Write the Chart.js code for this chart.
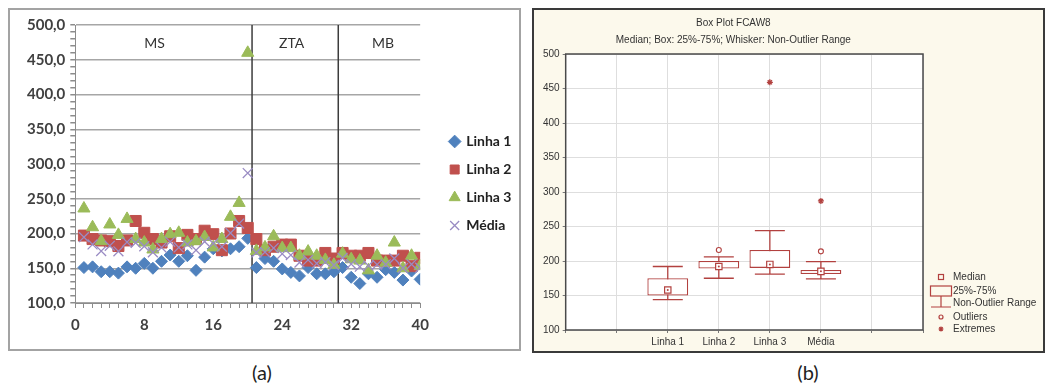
<!DOCTYPE html>
<html>
<head>
<meta charset="utf-8">
<script src="https://cdn.jsdelivr.net/npm/chart.js@4.4.1/dist/chart.umd.min.js"></script>
<style>
    html, body { margin: 0; padding: 0; background: #fff; }
    body { width: 1045px; height: 385px; position: relative; overflow: hidden; font-family: Lato, sans-serif; }
    #panelA { position: absolute; left: 8px; top: 8px; width: 509px; height: 339px; border: 2px solid #a3a3a3; background: #fff; }
    #panelB { position: absolute; left: 532px; top: 8px; width: 509px; height: 341px; border: 2px solid #3a3a3a; background: #fcf9ec; }
    .cap { position: absolute; top: 360px; width: 60px; text-align: center; font-size: 20px; line-height: 24px; color: #222; }
</style>
</head>
<body>
<div id="panelA"><canvas id="chartA" width="509" height="339"></canvas></div>
<div id="panelB"><canvas id="chartB" width="509" height="341"></canvas></div>
<div class="cap" style="left:232px">(a)</div>
<div class="cap" style="left:778px">(b)</div>
<script>
// --- painel (a): valores por amostra ---
const samples = [1, 2, 3, 4, 5, 6, 7, 8, 9, 10, 11, 12, 13, 14, 15, 16, 17, 18, 19, 20,
                 21, 22, 23, 24, 25, 26, 27, 28, 29, 30, 31, 32, 33, 34, 35, 36, 37, 38, 39, 40];
const linha1 = [151, 152, 145, 145, 143, 152, 150, 157, 150, 160, 169, 160, 168, 147, 166, 178, 175, 178, 181, 193,
                151, 164, 160, 149, 144, 139, 151, 142, 142, 145, 151, 137, 128, 142, 137, 148, 144, 133, 146, 134];
const linha2 = [197, 192, 190, 189, 182, 190, 218, 201, 192, 187, 196, 179, 198, 192, 204, 199, 176, 200, 218, 208,
                192, 176, 181, 184, 184, 168, 161, 161, 172, 164, 172, 168, 168, 172, 161, 161, 161, 168, 153, 165];
const linha3 = [236, 209, 189, 213, 198, 221, 192, 187, 177, 192, 199, 201, 187, 189, 195, 180, 192, 224, 244, 460,
                175, 180, 196, 179, 179, 168, 174, 168, 162, 155, 171, 163, 161, 147, 168, 158, 187, 150, 168, 153];
const media  = [194.7, 184.3, 174.7, 182.3, 174.3, 187.7, 186.7, 181.7, 173, 179.7, 188, 180, 184.3, 176, 188.3, 185.7, 181, 200.7, 214.3, 287,
                172.7, 173.3, 179, 170.7, 169, 158.3, 162, 157, 158.7, 154.7, 164.7, 156, 152.3, 153.7, 155.3, 155.7, 164, 150.3, 155.7, 150.7];
const regionNames = ['MS', 'ZTA', 'MB'];
const regionBounds = [0, 20.5, 30.5, 40];
const regionLabelAt = [9.2, 25.1, 35.7];

// --- painel (b): box plot ---
const boxLabels = ['Linha 1', 'Linha 2', 'Linha 3', 'Média'];
const boxPos = [2, 3, 4, 5];
const boxQ1 = [150, 189, 190, 181];
const boxQ3 = [175, 200, 216, 187];
const boxMedian = [158, 192, 195, 185];
const whiskerLow = [144, 175, 181, 174];
const whiskerHigh = [192, 206, 244, 199];
const outlierPos = [3, 5];
const outlierVal = [216, 214];
const extremePos = [4, 5];
const extremeVal = [459, 287];

const boxRed = '#b2413f';

function pts(values) {
    return values.map((v, i) => ({ x: samples[i], y: v }));
}

const regionsPlugin = {
    id: 'regions',
    beforeDatasetsDraw(chart) {
        const { ctx, chartArea, scales } = chart;
        ctx.save();
        ctx.strokeStyle = '#3c3c3c';
        ctx.lineWidth = 1.5;
        for (let i = 1; i < regionBounds.length - 1; i++) {
            const px = scales.x.getPixelForValue(regionBounds[i]);
            ctx.beginPath();
            ctx.moveTo(px, chartArea.top);
            ctx.lineTo(px, chartArea.bottom);
            ctx.stroke();
        }
        ctx.fillStyle = '#333';
        ctx.font = '14px Lato';
        ctx.textAlign = 'center';
        ctx.textBaseline = 'middle';
        const ly = scales.y.getPixelForValue(473);
        regionNames.forEach((name, i) => {
            ctx.fillText(name, scales.x.getPixelForValue(regionLabelAt[i]), ly);
        });
        ctx.restore();
    }
};

new Chart(document.getElementById('chartA'), {
    type: 'scatter',
    data: {
        datasets: [
            { label: 'Linha 1', data: pts(linha1), pointStyle: 'rectRot', pointRadius: 6,
              backgroundColor: '#4f81bd', borderColor: '#4f81bd', borderWidth: 1, order: 3 },
            { label: 'Linha 2', data: pts(linha2), pointStyle: 'rect', pointRadius: 7.8,
              backgroundColor: '#c0504d', borderColor: '#c0504d', borderWidth: 1, order: 2 },
            { label: 'Linha 3', data: pts(linha3), pointStyle: 'triangle', pointRadius: 7,
              backgroundColor: '#9bbb59', borderColor: '#9bbb59', borderWidth: 1, order: 1 },
            { label: 'Média', data: pts(media), pointStyle: 'crossRot', pointRadius: 7,
              backgroundColor: '#9a8cc4', borderColor: '#9a8cc4', borderWidth: 1.3, order: 0 }
        ]
    },
    options: {
        responsive: false,
        animation: false,
        layout: { padding: { left: 12, top: 15, bottom: 7, right: 0 } },
        plugins: {
            tooltip: { enabled: false },
            legend: {
                position: 'right',
                labels: {
                    usePointStyle: true,
                    boxWidth: 9,
                    boxHeight: 9,
                    padding: 14,
                    color: '#222',
                    font: { family: 'Lato', weight: 'bold', size: 14 },
                    sort: (a, b) => a.datasetIndex - b.datasetIndex
                }
            }
        },
        scales: {
            x: {
                type: 'linear', min: 0, max: 40,
                ticks: {
                    stepSize: 1, autoSkip: false, maxRotation: 0, padding: 8,
                    color: '#404040', font: { family: 'Lato', weight: 'bold', size: 15 },
                    callback: v => (v % 8 === 0 ? v : '')
                },
                grid: { drawOnChartArea: false, tickLength: 5, color: '#8c8c8c' },
                border: { color: '#8c8c8c' }
            },
            y: {
                min: 100, max: 500,
                ticks: {
                    stepSize: 10, autoSkip: false, padding: 5,
                    color: '#404040', font: { family: 'Lato', weight: 'bold', size: 15 },
                    callback: v => (v % 50 === 0 ? v.toFixed(1).replace('.', ',') : '')
                },
                grid: {
                    color: c => (c.tick && c.tick.value % 50 === 0 ? '#a6a6a6' : 'rgba(0,0,0,0)'),
                    tickColor: '#8c8c8c', tickLength: 5, lineWidth: 1.5
                },
                border: { color: '#8c8c8c' }
            },
            gap: {
                type: 'linear', position: 'right', display: true,
                ticks: { display: false }, grid: { display: false }, border: { display: false },
                afterFit: s => { s.width = 16; }
            }
        }
    },
    plugins: [regionsPlugin]
});

// --- box plot ---
const boxDecor = {
    id: 'boxDecor',
    beforeDraw(chart) {
        const { ctx, chartArea: a } = chart;
        ctx.save();
        ctx.fillStyle = '#fff';
        ctx.fillRect(a.left, a.top, a.width, a.height);
        ctx.restore();
    },
    afterDraw(chart) {
        const { ctx, chartArea: a } = chart;
        ctx.save();
        ctx.strokeStyle = '#4a4a4a';
        ctx.lineWidth = 1.5;
        ctx.strokeRect(a.left, a.top, a.width, a.height);

        // titulo
        ctx.fillStyle = '#333';
        ctx.font = '10px "Liberation Sans"';
        ctx.textAlign = 'center';
        ctx.textBaseline = 'middle';
        const cx = (a.left + a.right) / 2 - 11;
        ctx.fillText('Box Plot FCAW8', cx, a.top - 31);
        ctx.fillText('Median; Box: 25%-75%; Whisker: Non-Outlier Range', cx, a.top - 14);

        // legenda
        const ix = a.right + 18, tx = a.right + 30, b = a.bottom;
        ctx.textAlign = 'left';
        ctx.strokeStyle = boxRed;
        ctx.fillStyle = '#333';
        ctx.lineWidth = 1.2;
        ctx.strokeRect(ix - 2.5, b - 55.5, 5, 5);
        ctx.fillText('Median', tx, b - 53);
        ctx.strokeRect(ix - 10.5, b - 44, 21, 10);
        ctx.fillText('25%-75%', tx, b - 39);
        ctx.beginPath();
        ctx.moveTo(ix, b - 34); ctx.lineTo(ix, b - 23);
        ctx.moveTo(ix - 10, b - 23); ctx.lineTo(ix + 10, b - 23);
        ctx.stroke();
        ctx.fillText('Non-Outlier Range', tx, b - 27);
        ctx.beginPath();
        ctx.arc(ix, b - 13, 2, 0, Math.PI * 2);
        ctx.stroke();
        ctx.fillText('Outliers', tx, b - 13);
        Chart.helpers.drawPoint(ctx, { pointStyle: 'star', radius: 2.5, borderWidth: 1 }, ix, b - 1);
        ctx.fillText('Extremes', tx, b - 1);

        // ponto central das medianas
        ctx.fillStyle = boxRed;
        boxMedian.forEach((m, i) => {
            ctx.beginPath();
            ctx.arc(chart.scales.x.getPixelForValue(boxPos[i]), chart.scales.y.getPixelForValue(m), 1, 0, Math.PI * 2);
            ctx.fill();
        });
        ctx.restore();
    }
};

new Chart(document.getElementById('chartB'), {
    type: 'bar',
    data: {
        datasets: [
            { type: 'bar', label: 'whisker', grouped: false, order: 5,
              data: boxPos.map((p, i) => ({ x: p, y: [whiskerLow[i], whiskerHigh[i]] })),
              backgroundColor: boxRed, borderWidth: 0, categoryPercentage: 1, barPercentage: 0.025 },
            { type: 'bar', label: 'box', grouped: false, order: 4,
              data: boxPos.map((p, i) => ({ x: p, y: [boxQ1[i], boxQ3[i]] })),
              backgroundColor: '#fff', borderColor: boxRed, borderWidth: 1.3, borderSkipped: false,
              categoryPercentage: 1, barPercentage: 0.8 },
            { type: 'scatter', label: 'caps', order: 3,
              data: boxPos.map((p, i) => ({ x: p, y: whiskerLow[i] })).concat(boxPos.map((p, i) => ({ x: p, y: whiskerHigh[i] }))),
              pointStyle: 'line', pointRadius: 15, borderColor: boxRed, borderWidth: 1.3 },
            { type: 'scatter', label: 'median', order: 2,
              data: boxPos.map((p, i) => ({ x: p, y: boxMedian[i] })),
              pointStyle: 'rect', pointRadius: 4.5, backgroundColor: '#fff', borderColor: boxRed, borderWidth: 1.2 },
            { type: 'scatter', label: 'outliers', order: 1,
              data: outlierPos.map((p, i) => ({ x: p, y: outlierVal[i] })),
              pointStyle: 'circle', pointRadius: 2.5, backgroundColor: '#fff', borderColor: boxRed, borderWidth: 1.1 },
            { type: 'scatter', label: 'extremes', order: 0,
              data: extremePos.map((p, i) => ({ x: p, y: extremeVal[i] })),
              pointStyle: 'star', pointRadius: 3, borderColor: boxRed, borderWidth: 1.3 }
        ]
    },
    options: {
        responsive: false,
        animation: false,
        layout: { padding: { left: 6, top: 44, bottom: 0, right: 120 } },
        plugins: { legend: { display: false }, tooltip: { enabled: false } },
        scales: {
            x: {
                type: 'linear', min: 0, max: 7, offset: false,
                ticks: {
                    stepSize: 1, autoSkip: false, maxRotation: 0, padding: 4,
                    color: '#333', font: { family: 'Liberation Sans', size: 10, lineHeight: 1 },
                    callback: v => { const k = boxPos.indexOf(v); return k >= 0 ? boxLabels[k] : ''; }
                },
                grid: { color: '#dedede', tickColor: '#777', tickLength: 3, offset: false },
                border: { display: false }
            },
            y: {
                type: 'linear', min: 100, max: 500,
                ticks: { stepSize: 50, padding: 3, color: '#333', font: { family: 'Liberation Sans', size: 10 } },
                grid: { color: '#dedede', tickColor: '#777', tickLength: 3 },
                border: { display: false }
            }
        }
    },
    plugins: [boxDecor]
});
</script>
</body>
</html>
